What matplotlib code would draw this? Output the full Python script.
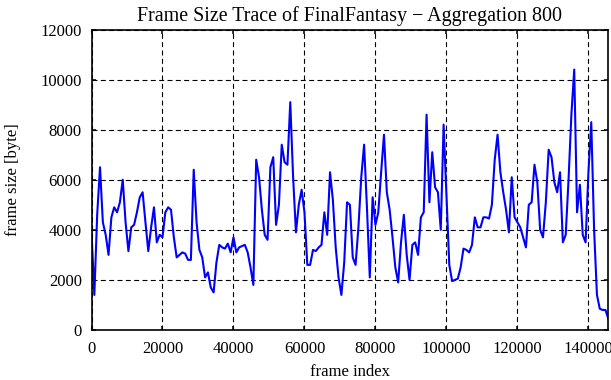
import numpy as np
import matplotlib
matplotlib.use("Agg")
import matplotlib.pyplot as plt

# frame size per aggregation block of 800 frames
sizes = [3900, 1400, 4600, 6500, 4300, 3800, 3000, 4500, 4900, 4700,
         5100, 6000, 4300, 3150, 4100, 4200, 4700, 5300, 5500, 4300,
         3150, 4100, 4900, 3500, 3800, 3700, 4700, 4900, 4800, 3700,
         2900, 3000, 3100, 3050, 2800, 2800, 6400, 4300, 3200, 2900,
         2100, 2300, 1700, 1500, 2700, 3400, 3300, 3250, 3450, 3100,
         3700, 3100, 3300, 3350, 3400, 3100, 2500, 1800, 6800, 6100,
         4800, 3800, 3600, 6500, 6900, 4200, 5000, 7400, 6700, 6600,
         9100, 6100, 3900, 5000, 5600, 4700, 2600, 2600, 3200, 3150,
         3300, 3400, 4700, 3800, 6300, 5200, 3300, 2100, 1400, 2700,
         5100, 5000, 2900, 2600, 4100, 6100, 7400, 4900, 2100, 5300,
         4200, 4700, 6300, 7800, 5500, 4800, 3700, 2500, 1900, 3500,
         4600, 3000, 2000, 3400, 3500, 3000, 4500, 4700, 8600, 5100,
         7100, 5700, 5500, 4000, 8200, 5400, 2600, 1950, 2000, 2050,
         2500, 3250, 3200, 3100, 3400, 4500, 4100, 4100, 4500, 4500,
         4450, 5000, 6800, 7800, 6300, 5500, 4800, 3900, 6100, 4500,
         4300, 4100, 3700, 3300, 5000, 5100, 6600, 5900, 4000, 3700,
         5100, 7200, 6900, 5900, 5500, 6300, 3500, 3800, 6000, 8600,
         10400, 4700, 5800, 3800, 3500, 6300, 8300, 4000, 1400, 850,
         800, 800, 450]
aggregation = 800
frames = np.arange(len(sizes)) * aggregation

xticks = [0, 20000, 40000, 60000, 80000, 100000, 120000, 140000]
yticks = [0, 2000, 4000, 6000, 8000, 10000, 12000]

plt.rcParams['font.family'] = ['Liberation Serif', 'DejaVu Serif']
plt.rcParams['font.size'] = 12
plt.rcParams['lines.scale_dashes'] = False

fig = plt.figure(figsize=(6.11, 3.80), dpi=100)
ax = fig.add_axes([91.5/611, 50/380, (608.3-91.5)/611, (330-29.5)/380])

ax.plot(frames, sizes, color='#0000ff', lw=1.5)

ax.set_xlim(0, frames[-1])
ax.set_ylim(0, 12000)
ax.set_xticks(xticks)
ax.set_yticks(yticks)
ax.grid(True, color='black', linestyle=(0, (3.6, 2.4)), lw=0.8)
ax.tick_params(direction='in', length=3, width=1.1, top=True, right=True, pad=7)
ax.tick_params(axis='x', pad=8)
for s in ax.spines.values():
    s.set_linewidth(1.2)

ax.set_title("Frame Size Trace of FinalFantasy \u2212 Aggregation 800", pad=6)
ax.set_xlabel("frame index", labelpad=5)
ax.set_ylabel("frame size [byte]", labelpad=14)

fig.savefig("out.png", dpi=100)
